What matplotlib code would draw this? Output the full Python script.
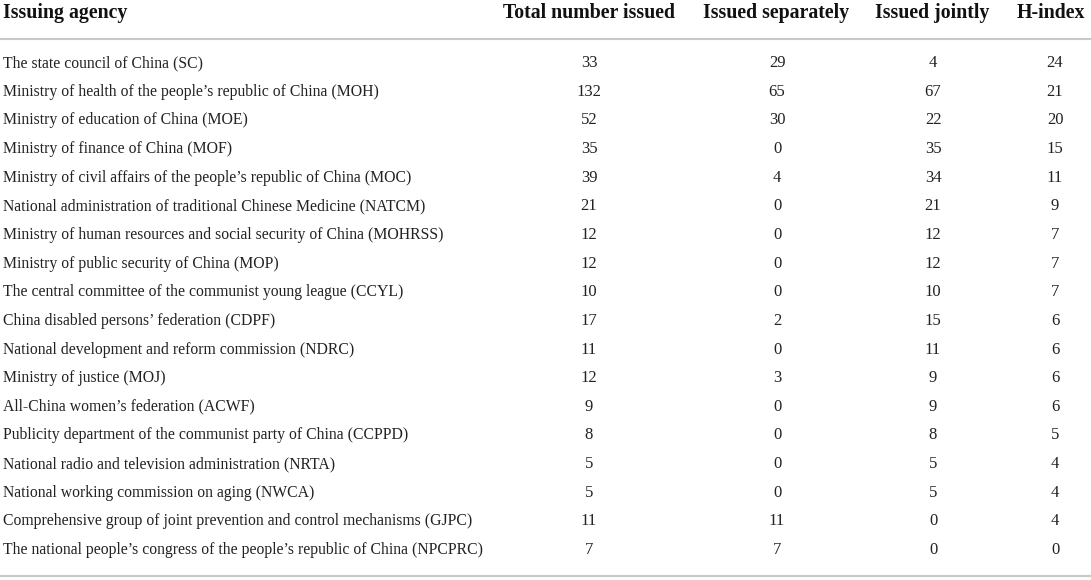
import matplotlib
matplotlib.use("Agg")
import matplotlib.pyplot as plt

# table content
headers = ["Issuing agency", "Total number issued", "Issued separately",
           "Issued jointly", "H-index"]
agencies = [
    "The state council of China (SC)",
    "Ministry of health of the people\u2019s republic of China (MOH)",
    "Ministry of education of China (MOE)",
    "Ministry of finance of China (MOF)",
    "Ministry of civil affairs of the people\u2019s republic of China (MOC)",
    "National administration of traditional Chinese Medicine (NATCM)",
    "Ministry of human resources and social security of China (MOHRSS)",
    "Ministry of public security of China (MOP)",
    "The central committee of the communist young league (CCYL)",
    "China disabled persons\u2019 federation (CDPF)",
    "National development and reform commission (NDRC)",
    "Ministry of justice (MOJ)",
    "All-China women\u2019s federation (ACWF)",
    "Publicity department of the communist party of China (CCPPD)",
    "National radio and television administration (NRTA)",
    "National working commission on aging (NWCA)",
    "Comprehensive group of joint prevention and control mechanisms (GJPC)",
    "The national people\u2019s congress of the people\u2019s republic of China (NPCPRC)",
]
total_issued = [33, 132, 52, 35, 39, 21, 12, 12, 10, 17, 11, 12, 9, 8, 5, 5, 11, 7]
issued_separately = [29, 65, 30, 0, 4, 0, 0, 0, 0, 2, 0, 3, 0, 0, 0, 0, 11, 7]
issued_jointly = [4, 67, 22, 35, 34, 21, 12, 12, 10, 15, 11, 9, 9, 8, 5, 5, 0, 0]
h_index = [24, 21, 20, 15, 11, 9, 7, 7, 7, 6, 6, 6, 6, 5, 4, 4, 4, 0]

W, H = 1091, 580
fig = plt.figure(figsize=(W / 100, H / 100), dpi=100)
ax = fig.add_axes([0, 0, 1, 1])
ax.set_xlim(0, W)
ax.set_ylim(H, 0)
ax.axis("off")

font = "Liberation Serif"
fs = 11.3       # agency names
fs_num = 12     # numbers
fs_head = 14.3
col_x = [589, 777, 933, 1055]
head_x = [589, 776, 932, 1051]
row_y0, row_dy = 63, 28.65
header_y = 13

ax.text(3, header_y, headers[0], ha="left", va="center", fontsize=fs_head,
        fontweight="bold", family=font, color="#111111")
for x, h in zip(head_x, headers[1:]):
    ax.text(x, header_y, h, ha="center", va="center", fontsize=fs_head,
            fontweight="bold", family=font, color="#111111")

ax.plot([0, W], [39, 39], color="#c8c8c8", lw=1.5)
ax.plot([0, W], [576, 576], color="#c8c8c8", lw=1.5)

columns = [total_issued, issued_separately, issued_jointly, h_index]
for i, name in enumerate(agencies):
    y = row_y0 + i * row_dy
    ax.text(3, y, name, ha="left", va="center", fontsize=fs, family=font,
            color="#222222")
    for x, col in zip(col_x, columns):
        ax.text(x, y, str(col[i]), ha="center", va="center", fontsize=fs_num,
                family=font, color="#222222")

fig.savefig("out.png", dpi=100)
